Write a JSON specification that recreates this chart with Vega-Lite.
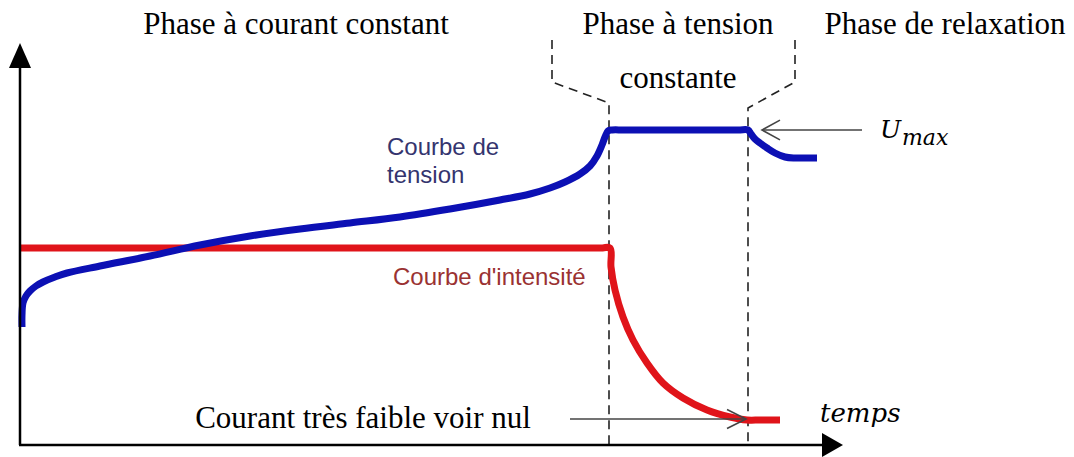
{
  "$schema": "https://vega.github.io/schema/vega-lite/v6.json",
  "width": 1074,
  "height": 457,
  "padding": 0,
  "autosize": "none",
  "config": {"view": {"stroke": null}},
  "datasets": {
    "dashed": [
      {"id": "a", "o": 1, "t": 552, "v": 417},
      {"id": "a", "o": 2, "t": 552, "v": 375},
      {"id": "a", "o": 3, "t": 609, "v": 354},
      {"id": "a", "o": 4, "t": 609, "v": 12},
      {"id": "b", "o": 1, "t": 795, "v": 417},
      {"id": "b", "o": 2, "t": 795, "v": 375},
      {"id": "b", "o": 3, "t": 748, "v": 349},
      {"id": "b", "o": 4, "t": 748, "v": 12}
    ],
    "courant": [
      {"o": 1, "t": 20, "v": 209},
      {"o": 2, "t": 600, "v": 209},
      {"o": 3, "t": 610, "v": 209},
      {"o": 4, "t": 611, "v": 190},
      {"o": 5, "t": 615, "v": 167},
      {"o": 6, "t": 623, "v": 140},
      {"o": 7, "t": 633, "v": 117},
      {"o": 8, "t": 647, "v": 94},
      {"o": 9, "t": 663, "v": 74},
      {"o": 10, "t": 683, "v": 59},
      {"o": 11, "t": 707, "v": 47},
      {"o": 12, "t": 730, "v": 40},
      {"o": 13, "t": 747, "v": 37},
      {"o": 14, "t": 760, "v": 37},
      {"o": 15, "t": 780, "v": 37}
    ],
    "tension": [
      {"o": 1, "t": 22, "v": 130},
      {"o": 2, "t": 22, "v": 142},
      {"o": 3, "t": 23, "v": 154},
      {"o": 4, "t": 26, "v": 161},
      {"o": 5, "t": 30, "v": 166},
      {"o": 6, "t": 36, "v": 171},
      {"o": 7, "t": 43, "v": 175},
      {"o": 8, "t": 55, "v": 180},
      {"o": 9, "t": 67, "v": 184},
      {"o": 10, "t": 100, "v": 191},
      {"o": 11, "t": 150, "v": 201},
      {"o": 12, "t": 200, "v": 212},
      {"o": 13, "t": 250, "v": 221},
      {"o": 14, "t": 300, "v": 228},
      {"o": 15, "t": 350, "v": 234},
      {"o": 16, "t": 400, "v": 240},
      {"o": 17, "t": 450, "v": 248},
      {"o": 18, "t": 500, "v": 257},
      {"o": 19, "t": 530, "v": 263},
      {"o": 20, "t": 550, "v": 269},
      {"o": 21, "t": 565, "v": 275},
      {"o": 22, "t": 580, "v": 283},
      {"o": 23, "t": 590, "v": 291},
      {"o": 24, "t": 597, "v": 301},
      {"o": 25, "t": 602, "v": 312},
      {"o": 26, "t": 605, "v": 320},
      {"o": 27, "t": 608, "v": 326},
      {"o": 28, "t": 612, "v": 327},
      {"o": 29, "t": 625, "v": 327},
      {"o": 30, "t": 738, "v": 327},
      {"o": 31, "t": 748, "v": 327},
      {"o": 32, "t": 751, "v": 323},
      {"o": 33, "t": 755, "v": 318},
      {"o": 34, "t": 760, "v": 314},
      {"o": 35, "t": 767, "v": 309},
      {"o": 36, "t": 775, "v": 304},
      {"o": 37, "t": 785, "v": 300},
      {"o": 38, "t": 795, "v": 299},
      {"o": 39, "t": 805, "v": 299},
      {"o": 40, "t": 817, "v": 299}
    ],
    "axes": [
      {"id": "y", "o": 1, "t": 20, "v": 12},
      {"id": "y", "o": 2, "t": 20, "v": 397},
      {"id": "x", "o": 1, "t": 19, "v": 12},
      {"id": "x", "o": 2, "t": 830, "v": 12}
    ],
    "pointers": [
      {"id": "umax", "o": 1, "t": 762, "v": 327},
      {"id": "umax", "o": 2, "t": 862, "v": 327},
      {"id": "nul", "o": 1, "t": 570, "v": 38},
      {"id": "nul", "o": 2, "t": 746, "v": 38}
    ],
    "serif": [
      {"label": "Phase à courant constant", "t": 296, "v": 423},
      {"label": "Phase à tension", "t": 678, "v": 423},
      {"label": "constante", "t": 678, "v": 369},
      {"label": "Phase de relaxation", "t": 945, "v": 423},
      {"label": "Courant très faible voir nul", "t": 363, "v": 29}
    ]
  },
  "encoding": {
    "x": {"field": "t", "type": "quantitative", "scale": {"domain": [0, 1074], "nice": false, "zero": false}, "axis": null},
    "y": {"field": "v", "type": "quantitative", "scale": {"domain": [0, 457], "nice": false, "zero": false}, "axis": null}
  },
  "layer": [
    {
      "data": {"name": "dashed"},
      "mark": {"type": "line", "color": "#222222", "strokeWidth": 1.6, "strokeDash": [9, 6]},
      "encoding": {"detail": {"field": "id"}, "order": {"field": "o", "type": "quantitative"}}
    },
    {
      "data": {"name": "courant"},
      "mark": {"type": "line", "color": "#e0141a", "strokeWidth": 7, "strokeCap": "butt", "strokeJoin": "round", "interpolate": "catmull-rom"},
      "encoding": {"order": {"field": "o", "type": "quantitative"}}
    },
    {
      "data": {"name": "tension"},
      "mark": {"type": "line", "color": "#0c10b4", "strokeWidth": 7, "strokeCap": "butt", "strokeJoin": "round", "interpolate": "catmull-rom"},
      "encoding": {"order": {"field": "o", "type": "quantitative"}}
    },
    {
      "data": {"name": "axes"},
      "mark": {"type": "line", "color": "#000000", "strokeWidth": 2.5},
      "encoding": {"detail": {"field": "id"}, "order": {"field": "o", "type": "quantitative"}}
    },
    {
      "data": {"name": "pointers"},
      "mark": {"type": "line", "color": "#444444", "strokeWidth": 1.6},
      "encoding": {"detail": {"field": "id"}, "order": {"field": "o", "type": "quantitative"}}
    },
    {
      "data": {"values": [{"t": 762, "v": 327}]},
      "mark": {"type": "point", "shape": "M 1 -0.55 L 0 0 L 1 0.55", "filled": false, "color": "#444444", "strokeWidth": 1.6, "size": 1296, "opacity": 1}
    },
    {
      "data": {"values": [{"t": 746, "v": 38}]},
      "mark": {"type": "point", "shape": "M -1 -0.5 L 0 0 L -1 0.5", "filled": false, "color": "#444444", "strokeWidth": 1.6, "size": 1444, "opacity": 1}
    },
    {
      "data": {"values": [{"t": 20, "v": 414}]},
      "mark": {"type": "point", "shape": "M 0 0 L 0.44 1 L -0.44 1 Z", "filled": true, "color": "#000000", "size": 2500, "opacity": 1}
    },
    {
      "data": {"values": [{"t": 843, "v": 12}]},
      "mark": {"type": "point", "shape": "M 0 0 L -1 -0.57 L -1 0.57 Z", "filled": true, "color": "#000000", "size": 1764, "opacity": 1}
    },
    {
      "data": {"name": "serif"},
      "mark": {"type": "text", "font": "Liberation Serif", "fontSize": 31, "color": "#000000", "align": "center", "baseline": "alphabetic"},
      "encoding": {"text": {"field": "label"}}
    },
    {
      "data": {"values": [{"label": "Courbe de", "t": 387, "v": 302}, {"label": "tension", "t": 387, "v": 274}]},
      "mark": {"type": "text", "font": "Liberation Sans", "fontSize": 24, "color": "#34346e", "align": "left", "baseline": "alphabetic"},
      "encoding": {"text": {"field": "label"}}
    },
    {
      "data": {"values": [{"label": "Courbe d'intensité", "t": 393, "v": 172}]},
      "mark": {"type": "text", "font": "Liberation Sans", "fontSize": 24, "color": "#9a3232", "align": "left", "baseline": "alphabetic"},
      "encoding": {"text": {"field": "label"}}
    },
    {
      "data": {"values": [{"label": "temps", "t": 820, "v": 35}]},
      "mark": {"type": "text", "font": "DejaVu Serif", "fontStyle": "italic", "fontSize": 26, "color": "#000000", "align": "left", "baseline": "alphabetic"},
      "encoding": {"text": {"field": "label"}}
    },
    {
      "data": {"values": [{"label": "U", "t": 880, "v": 319}]},
      "mark": {"type": "text", "font": "DejaVu Serif", "fontStyle": "italic", "fontSize": 25, "color": "#000000", "align": "left", "baseline": "alphabetic"},
      "encoding": {"text": {"field": "label"}}
    },
    {
      "data": {"values": [{"label": "max", "t": 902, "v": 312}]},
      "mark": {"type": "text", "font": "DejaVu Serif", "fontStyle": "italic", "fontSize": 22, "color": "#000000", "align": "left", "baseline": "alphabetic"},
      "encoding": {"text": {"field": "label"}}
    }
  ]
}
